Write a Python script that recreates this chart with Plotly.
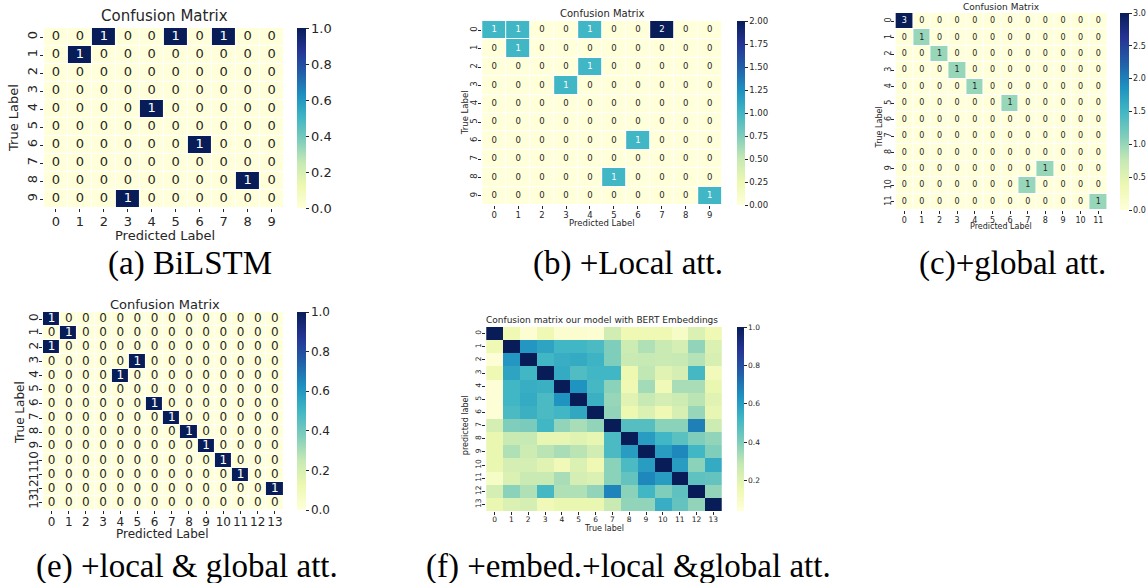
import plotly.graph_objects as go

W, H = 1146, 583

# ---------------- data ----------------
labels10 = [str(i) for i in range(10)]
labels12 = [str(i) for i in range(12)]
labels14 = [str(i) for i in range(14)]

cm_a = [
    [0, 0, 1, 0, 0, 1, 0, 1, 0, 0],
    [0, 1, 0, 0, 0, 0, 0, 0, 0, 0],
    [0, 0, 0, 0, 0, 0, 0, 0, 0, 0],
    [0, 0, 0, 0, 0, 0, 0, 0, 0, 0],
    [0, 0, 0, 0, 1, 0, 0, 0, 0, 0],
    [0, 0, 0, 0, 0, 0, 0, 0, 0, 0],
    [0, 0, 0, 0, 0, 0, 1, 0, 0, 0],
    [0, 0, 0, 0, 0, 0, 0, 0, 0, 0],
    [0, 0, 0, 0, 0, 0, 0, 0, 1, 0],
    [0, 0, 0, 1, 0, 0, 0, 0, 0, 0],
]

cm_b = [
    [1, 1, 0, 0, 1, 0, 0, 2, 0, 0],
    [0, 1, 0, 0, 0, 0, 0, 0, 0, 0],
    [0, 0, 0, 0, 1, 0, 0, 0, 0, 0],
    [0, 0, 0, 1, 0, 0, 0, 0, 0, 0],
    [0, 0, 0, 0, 0, 0, 0, 0, 0, 0],
    [0, 0, 0, 0, 0, 0, 0, 0, 0, 0],
    [0, 0, 0, 0, 0, 0, 1, 0, 0, 0],
    [0, 0, 0, 0, 0, 0, 0, 0, 0, 0],
    [0, 0, 0, 0, 0, 1, 0, 0, 0, 0],
    [0, 0, 0, 0, 0, 0, 0, 0, 0, 1],
]

cm_c = [
    [3, 0, 0, 0, 0, 0, 0, 0, 0, 0, 0, 0],
    [0, 1, 0, 0, 0, 0, 0, 0, 0, 0, 0, 0],
    [0, 0, 1, 0, 0, 0, 0, 0, 0, 0, 0, 0],
    [0, 0, 0, 1, 0, 0, 0, 0, 0, 0, 0, 0],
    [0, 0, 0, 0, 1, 0, 0, 0, 0, 0, 0, 0],
    [0, 0, 0, 0, 0, 0, 1, 0, 0, 0, 0, 0],
    [0, 0, 0, 0, 0, 0, 0, 0, 0, 0, 0, 0],
    [0, 0, 0, 0, 0, 0, 0, 0, 0, 0, 0, 0],
    [0, 0, 0, 0, 0, 0, 0, 0, 0, 0, 0, 0],
    [0, 0, 0, 0, 0, 0, 0, 0, 1, 0, 0, 0],
    [0, 0, 0, 0, 0, 0, 0, 1, 0, 0, 0, 0],
    [0, 0, 0, 0, 0, 0, 0, 0, 0, 0, 0, 1],
]

cm_e = [
    [1, 0, 0, 0, 0, 0, 0, 0, 0, 0, 0, 0, 0, 0],
    [0, 1, 0, 0, 0, 0, 0, 0, 0, 0, 0, 0, 0, 0],
    [1, 0, 0, 0, 0, 0, 0, 0, 0, 0, 0, 0, 0, 0],
    [0, 0, 0, 0, 0, 1, 0, 0, 0, 0, 0, 0, 0, 0],
    [0, 0, 0, 0, 1, 0, 0, 0, 0, 0, 0, 0, 0, 0],
    [0, 0, 0, 0, 0, 0, 0, 0, 0, 0, 0, 0, 0, 0],
    [0, 0, 0, 0, 0, 0, 1, 0, 0, 0, 0, 0, 0, 0],
    [0, 0, 0, 0, 0, 0, 0, 1, 0, 0, 0, 0, 0, 0],
    [0, 0, 0, 0, 0, 0, 0, 0, 1, 0, 0, 0, 0, 0],
    [0, 0, 0, 0, 0, 0, 0, 0, 0, 1, 0, 0, 0, 0],
    [0, 0, 0, 0, 0, 0, 0, 0, 0, 0, 1, 0, 0, 0],
    [0, 0, 0, 0, 0, 0, 0, 0, 0, 0, 0, 1, 0, 0],
    [0, 0, 0, 0, 0, 0, 0, 0, 0, 0, 0, 0, 0, 1],
    [0, 0, 0, 0, 0, 0, 0, 0, 0, 0, 0, 0, 0, 0],
]

cm_f = [
    [1.00, 0.15, 0.06, 0.15, 0.07, 0.07, 0.06, 0.25, 0.15, 0.15, 0.15, 0.10, 0.22, 0.15],
    [0.15, 1.00, 0.62, 0.58, 0.52, 0.52, 0.50, 0.40, 0.26, 0.32, 0.27, 0.24, 0.37, 0.22],
    [0.05, 0.62, 1.00, 0.52, 0.55, 0.56, 0.53, 0.40, 0.27, 0.28, 0.27, 0.28, 0.31, 0.23],
    [0.15, 0.58, 0.52, 1.00, 0.56, 0.49, 0.52, 0.52, 0.16, 0.29, 0.20, 0.24, 0.51, 0.13],
    [0.05, 0.52, 0.55, 0.54, 1.00, 0.63, 0.51, 0.38, 0.15, 0.34, 0.14, 0.33, 0.33, 0.17],
    [0.05, 0.52, 0.56, 0.50, 0.63, 1.00, 0.54, 0.36, 0.20, 0.28, 0.24, 0.26, 0.30, 0.20],
    [0.05, 0.50, 0.54, 0.50, 0.52, 0.57, 1.00, 0.37, 0.16, 0.22, 0.15, 0.23, 0.36, 0.18],
    [0.24, 0.40, 0.41, 0.52, 0.37, 0.33, 0.37, 1.00, 0.48, 0.48, 0.38, 0.38, 0.68, 0.26],
    [0.17, 0.27, 0.28, 0.18, 0.18, 0.20, 0.18, 0.50, 1.00, 0.60, 0.52, 0.47, 0.40, 0.37],
    [0.17, 0.32, 0.26, 0.30, 0.33, 0.30, 0.25, 0.50, 0.60, 1.00, 0.60, 0.66, 0.52, 0.40],
    [0.17, 0.24, 0.24, 0.20, 0.14, 0.22, 0.15, 0.38, 0.50, 0.60, 1.00, 0.60, 0.38, 0.56],
    [0.10, 0.22, 0.27, 0.27, 0.33, 0.24, 0.22, 0.38, 0.45, 0.66, 0.60, 1.00, 0.46, 0.45],
    [0.24, 0.38, 0.32, 0.51, 0.32, 0.32, 0.37, 0.67, 0.38, 0.52, 0.40, 0.46, 1.00, 0.37],
    [0.17, 0.22, 0.24, 0.14, 0.17, 0.17, 0.17, 0.27, 0.37, 0.37, 0.55, 0.45, 0.37, 1.00],
]

cbar_a_ticks = [0.0, 0.2, 0.4, 0.6, 0.8, 1.0]
cbar_b_ticks = [0.0, 0.25, 0.5, 0.75, 1.0, 1.25, 1.5, 1.75, 2.0]
cbar_c_ticks = [0.0, 0.5, 1.0, 1.5, 2.0, 2.5, 3.0]
cbar_f_ticks = [0.2, 0.4, 0.6, 0.8, 1.0]

captions = ["(a) BiLSTM", "(b) +Local att.", "(c)+global att.",
            "(e) +local & global att.", "(f) +embed.+local &global att."]

# ---------------- layout helpers ----------------
FONT = "DejaVu Sans"
TXT = "#262626"

fig = go.Figure()
layout = dict(
    width=W, height=H, margin=dict(l=0, r=0, t=0, b=0),
    paper_bgcolor="white", plot_bgcolor="white", showlegend=False,
    font=dict(family=FONT, color=TXT),
)
annotations = []


def px_x(v):
    return v / W


def px_y(v):
    return 1 - v / H


def panel(idx, z, labels, zmin, zmax, box, cbx, cbth, ctick, cfmt,
          fs, title, tfs, ytitle, xtitle, ttl_pos, yt_pos, xt_pos, afs, lfs,
          ystand=0, xstand=0, annotate=True, gap=1):
    x0, y0, x1, y1 = box
    n = len(labels)
    xa = "xaxis" if idx == 1 else f"xaxis{idx}"
    ya = "yaxis" if idx == 1 else f"yaxis{idx}"
    xr = "x" if idx == 1 else f"x{idx}"
    yr = "y" if idx == 1 else f"y{idx}"
    fig.add_trace(go.Heatmap(
        z=z, x=list(range(n)), y=list(range(n)), xaxis=xr, yaxis=yr,
        colorscale="YlGnBu", zmin=zmin, zmax=zmax, xgap=gap, ygap=gap,
        hoverinfo="skip",
        colorbar=dict(
            x=px_x(cbx), xanchor="left", xpad=0, ypad=0,
            y=px_y((y0 + y1) / 2), yanchor="middle",
            len=(y1 - y0), lenmode="pixels",
            thickness=cbth, thicknessmode="pixels", outlinewidth=0,
            ticks="outside", ticklen=3, tickwidth=1, tickcolor=TXT,
            tickvals=ctick, ticktext=[format(t, cfmt) for t in ctick],
            tickfont=dict(family=FONT, size=fs, color=TXT),
        ),
    ))
    if annotate:
        xs, ys, ts, cs = [], [], [], []
        for r in range(n):
            for c in range(n):
                v = z[r][c]
                xs.append(c)
                ys.append(r)
                ts.append(str(v))
                norm = (v - zmin) / (zmax - zmin)
                cs.append("white" if norm > 0.45 else TXT)
        fig.add_trace(go.Scatter(
            x=xs, y=ys, text=ts, mode="text", xaxis=xr, yaxis=yr,
            textfont=dict(family=FONT, size=afs, color=cs),
            hoverinfo="skip", textposition="middle center",
        ))
    layout[xa] = dict(
        domain=[px_x(x0), px_x(x1)], range=[-0.5, n - 0.5], anchor=yr,
        tickvals=list(range(n)), ticktext=labels, ticks="outside",
        ticklen=3, tickcolor=TXT, showgrid=False, zeroline=False,
        showline=False, tickangle=0, ticklabelstandoff=xstand,
        tickfont=dict(family=FONT, size=fs, color=TXT),
        fixedrange=True,
    )
    layout[ya] = dict(
        domain=[px_y(y1), px_y(y0)], range=[n - 0.5, -0.5], anchor=xr,
        tickvals=list(range(n)), ticktext=labels, ticks="outside",
        ticklen=3, tickcolor=TXT, showgrid=False, zeroline=False,
        showline=False, tickangle=-90, ticklabelstandoff=ystand,
        tickfont=dict(family=FONT, size=fs, color=TXT), fixedrange=True,
    )
    annotations.append(dict(
        text=title, x=px_x(ttl_pos[0]), y=px_y(ttl_pos[1]), xref="paper",
        yref="paper", showarrow=False, xanchor="center", yanchor="middle",
        font=dict(family=FONT, size=tfs, color=TXT),
    ))
    annotations.append(dict(
        text=ytitle, x=px_x(yt_pos[0]), y=px_y(yt_pos[1]), xref="paper",
        yref="paper", showarrow=False, xanchor="center", yanchor="middle",
        textangle=-90, font=dict(family=FONT, size=lfs, color=TXT),
    ))
    annotations.append(dict(
        text=xtitle, x=px_x(xt_pos[0]), y=px_y(xt_pos[1]), xref="paper",
        yref="paper", showarrow=False, xanchor="center", yanchor="middle",
        font=dict(family=FONT, size=lfs, color=TXT),
    ))


# (a)
panel(1, cm_a, labels10, 0, 1, (44, 28, 284, 208), 298, 9, cbar_a_ticks, ".1f",
      13, "Confusion Matrix", 15, "True Label", "Predicted Label",
      (165, 16), (14, 118), (165, 235), 13, 13, ystand=-2, xstand=-2)
# (b)
panel(2, cm_b, labels10, 0, 2, (483, 21, 723, 205), 738, 8, cbar_b_ticks, ".2f",
      8.5, "Confusion Matrix", 10, "True Label", "Predicted Label",
      (603, 14), (466, 113), (603, 223), 8.5, 8.5, ystand=-2, xstand=-1)
# (c)
panel(3, cm_c, labels12, 0, 3, (897, 13, 1109, 210), 1122, 9, cbar_c_ticks, ".1f",
      8, "Confusion Matrix", 9, "True Label", "Predicted Label",
      (1003, 7), (881, 127), (1003, 226), 8, 8, ystand=-3, xstand=-1)
# (e)
panel(4, cm_e, labels14, 0, 1, (43, 312, 284, 510), 298, 9, cbar_a_ticks, ".1f",
      12, "Confusion Matrix", 13, "True Label", "Predicted Label",
      (165, 304), (20, 412), (163, 534), 12, 12, ystand=-4, xstand=-2)
# (f)
panel(5, cm_f, labels14, 0.04, 1, (487, 327, 723, 511), 738, 7, cbar_f_ticks, ".1f",
      7.5, "Confusion matrix our model with BERT Embeddings", 9,
      "predicted label", "True label",
      (603, 320), (466, 425), (605, 528), 7.5, 8, ystand=-2, xstand=-2,
      annotate=False, gap=0)

cap_pos = [(190, 263), (629, 263), (1014, 263), (187, 566), (630, 566)]
for cap, (cx, cy) in zip(captions, cap_pos):
    annotations.append(dict(
        text=cap.replace("&", "&amp;"), x=px_x(cx), y=px_y(cy), xref="paper",
        yref="paper", showarrow=False, xanchor="center", yanchor="middle",
        font=dict(family="Liberation Serif", size=33, color="black"),
    ))

layout["annotations"] = annotations
fig.update_layout(**layout)
fig.write_html(
    "out.html",
    config={"displayModeBar": False},
    post_script="document.body.style.margin='0';document.body.style.overflow='hidden';",
)
